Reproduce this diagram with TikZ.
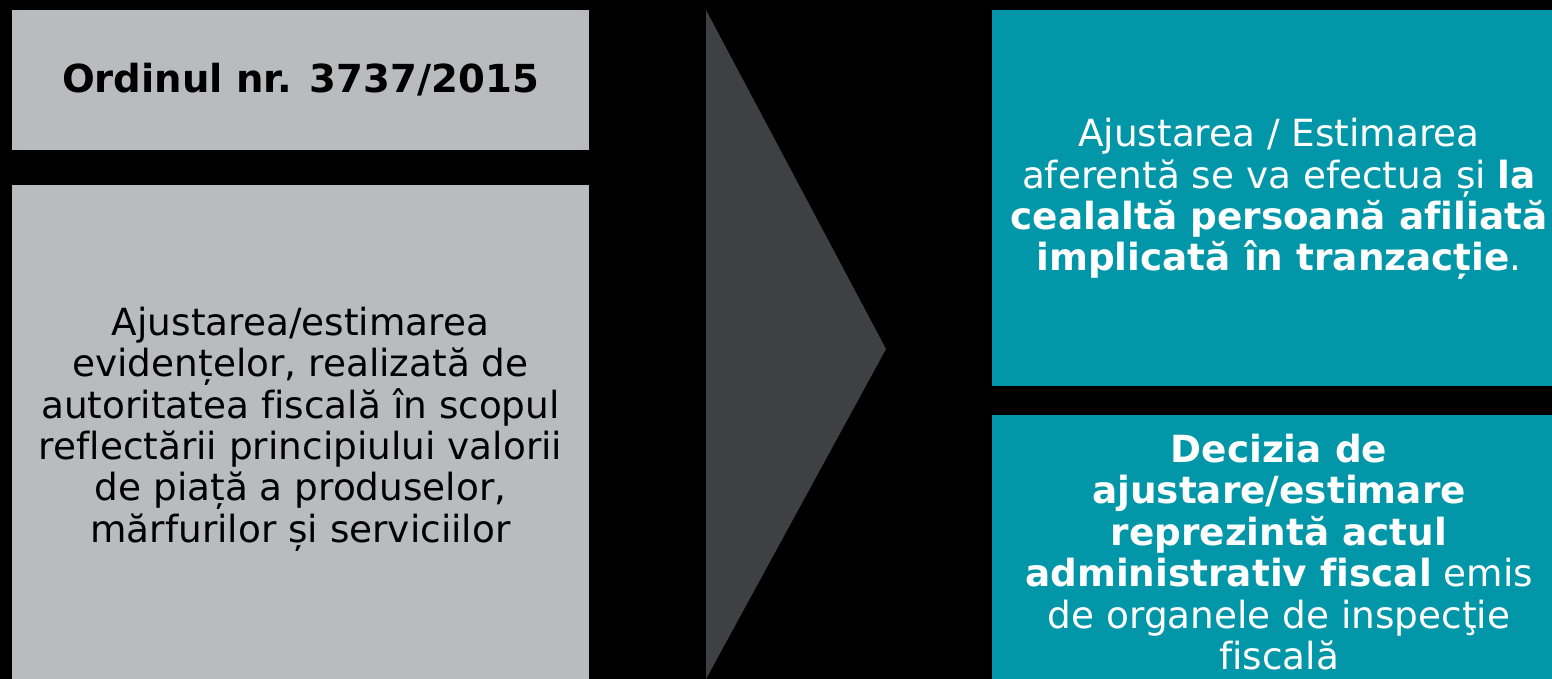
\documentclass[tikz,border=0pt]{standalone}
\usepackage{fontspec}
\setmainfont[Ligatures=NoCommon]{DejaVu Sans}
\definecolor{boxgray}{HTML}{BABBBF}
\definecolor{arrowgray}{HTML}{3F4044}
\definecolor{teal}{HTML}{0197A8}
\begin{document}
\begin{tikzpicture}[x=0.5pt,y=-0.5pt,
  panel/.style={inner sep=0pt, outer sep=0pt, anchor=north west},
  txt/.style={align=center, font=\fontsize{18.7}{20.7}\selectfont, inner sep=0pt}]
\useasboundingbox[fill=black] (0,0) rectangle (1552,679);
% boxes
\node[panel, fill=boxgray, minimum width=288.5pt, minimum height=70pt] (g1) at (12,10) {};
\node[panel, fill=boxgray, minimum width=288.5pt, minimum height=260pt] (g2) at (12,185) {};
\node[panel, fill=teal, minimum width=290pt, minimum height=188pt] (t1) at (992,10) {};
\node[panel, fill=teal, minimum width=290pt, minimum height=150pt] (t2) at (992,415) {};
\fill[arrowgray] (706,10) -- (886,349) -- (706,679) -- cycle;
% texts
\node[txt, font=\fontsize{19.3}{20.7}\selectfont\bfseries] (l1) at (300.5,80) {Ordinul nr. 3737/2015};
\node[txt] (l2) at (300.5,429) {Ajustarea/estimarea\\evidențelor, realizată de\\autoritatea fiscală în scopul\\reflectării principiului valorii\\de piață a produselor,\\mărfurilor și serviciilor};
\node[txt, text=white] (r1) at (1279,199) {Ajustarea / Estimarea\\aferentă se va efectua și \textbf{la}\\\textbf{cealaltă persoană afiliată}\\\textbf{implicată în tranzacție}.};
\node[txt, text=white] (r2) at (1279,552) {\textbf{Decizia de}\\\textbf{ajustare/estimare}\\\textbf{reprezintă actul}\\\textbf{administrativ fiscal} emis\\de organele de inspecţie\\fiscală};
\end{tikzpicture}
\end{document}
